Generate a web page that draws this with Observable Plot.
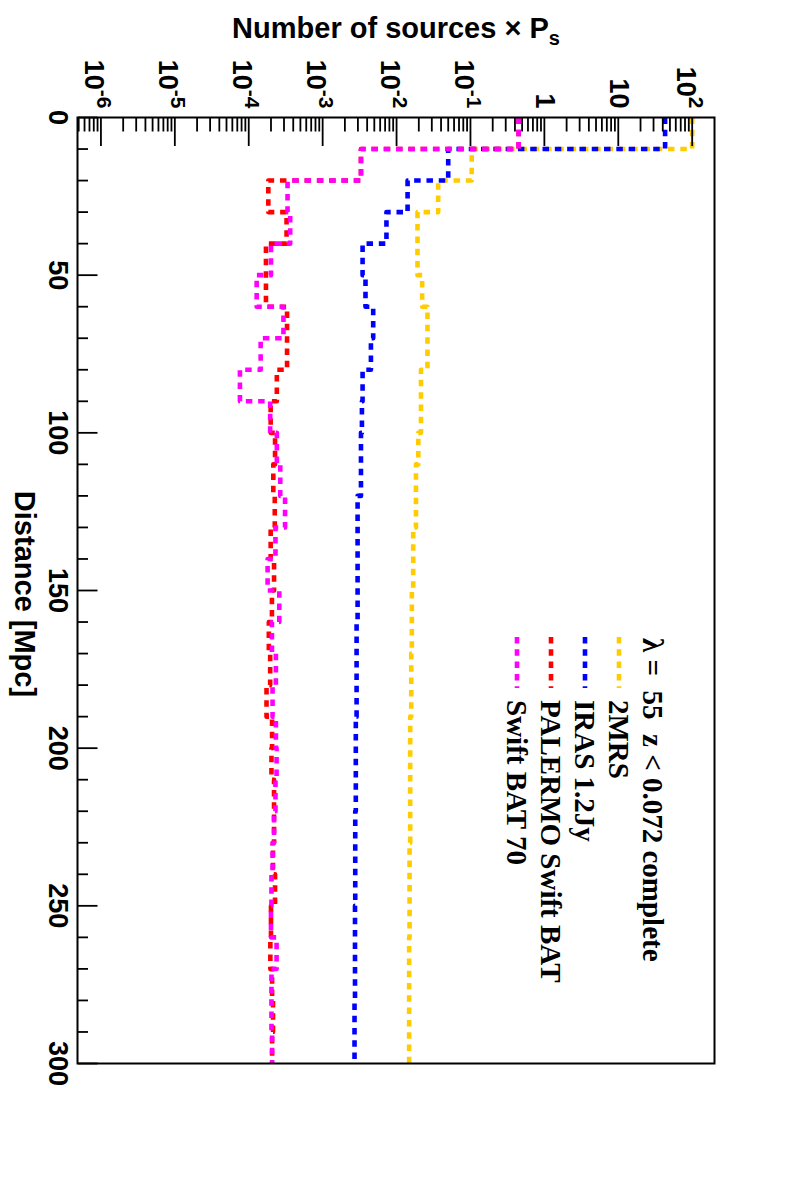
<!DOCTYPE html>
<html>
<head>
<meta charset="utf-8">
<script src="https://cdn.jsdelivr.net/npm/d3@7"></script>
<script src="https://cdn.jsdelivr.net/npm/@observablehq/plot@0.6"></script>
<style>
html, body { margin: 0; padding: 0; background: #fff; overflow: hidden; }
#page { position: relative; width: 794px; height: 1182px; overflow: hidden; background: #fff; }
#chart { position: absolute; left: 0; top: 0; width: 1182px; height: 794px;
         transform-origin: 0 0; transform: translate(794px, 0) rotate(90deg); }
</style>
</head>
<body>
<div id="page"><div id="chart"></div></div>
<script>
// ---- data (10 Mpc bins, lower edges) ----
const binStarts = [0,10,20,30,40,50,60,70,80,90,100,110,120,130,140,150,160,170,180,190,200,210,220,230,240,250,260,270,280,290];
const binEnd = 300;

const series2MRS = [100,0.104,0.0366,0.0192,0.0192,0.0222,0.0262,0.0262,0.0214,0.0214,0.0197,0.0183,0.0183,0.0168,0.0168,0.0161,0.0161,0.0158,0.0158,0.0153,0.0153,0.0153,0.0153,0.0150,0.0150,0.0150,0.0148,0.0148,0.0148,0.0148];
const seriesIRAS = [43,0.050,0.0141,0.0073,0.00347,0.0038,0.00483,0.0045,0.00347,0.0034,0.0033,0.0033,0.00297,0.00297,0.00297,0.00297,0.00288,0.00288,0.00288,0.00281,0.00281,0.00281,0.00276,0.00276,0.00276,0.00274,0.00274,0.00274,0.0027,0.0027];
const seriesPalermo = [0.448,0.0033,1.84e-4,3.25e-4,1.71e-4,1.71e-4,3.3e-4,3.3e-4,2.4e-4,1.98e-4,2.27e-4,2.15e-4,2.25e-4,1.98e-4,2.2e-4,2.06e-4,1.87e-4,1.95e-4,1.74e-4,2.07e-4,2.03e-4,2.2e-4,2.2e-4,2.13e-4,2.27e-4,2.0e-4,1.96e-4,2.07e-4,2.13e-4,2.07e-4];
const seriesBAT70 = [0.448,0.0033,3.35e-4,3.64e-4,2.0e-4,1.28e-4,2.95e-4,1.45e-4,7.6e-5,1.95e-4,2.4e-4,2.67e-4,3.1e-4,2.3e-4,1.8e-4,2.59e-4,2.06e-4,2.33e-4,2.1e-4,2.33e-4,2.38e-4,2.3e-4,2.2e-4,2.1e-4,2.03e-4,2.0e-4,2.38e-4,2.03e-4,2.03e-4,2.07e-4];

const seriesNames = ["2MRS", "IRAS 1.2Jy", "PALERMO Swift BAT", "Swift BAT 70"];
const seriesColors = ["#ffcc00", "#0000ff", "#ff0000", "#ff00ff"];
const legendHeader = "\u03bb =  55  z < 0.072 complete";

const distanceMajorTicks = [0,50,100,150,200,250,300];
const distanceMinorTicks = [10,20,30,40,60,70,80,90,110,120,130,140,160,170,180,190,210,220,230,240,260,270,280,290];
const countMajorTicks = [1e-6,1e-5,1e-4,1e-3,1e-2,1e-1,1,10,100];
const countTickLabels = ["10^-6","10^-5","10^-4","10^-3","10^-2","10^-1","1","10","10^2"];
const countDomain = [Math.pow(10, -6.317), Math.pow(10, 2.302)];
const xTitle = "Distance [Mpc]";
const yTitle = "Number of sources \u00d7 P";
const yTitleSub = "s";

// ---- build table ----
const allSeries = [series2MRS, seriesIRAS, seriesPalermo, seriesBAT70];
const rows = [];
allSeries.forEach((vals, k) => {
  binStarts.forEach((d, i) => rows.push({series: seriesNames[k], distance: d, value: vals[i]}));
  rows.push({series: seriesNames[k], distance: binEnd, value: vals[vals.length - 1]});
});

const countMinorTicks = [];
for (let e = -7; e <= 2; e++) for (let m = 2; m <= 9; m++) {
  const v = m * Math.pow(10, e);
  if (v > countDomain[0] && v < Math.pow(10, 2.29)) countMinorTicks.push(v);
}

const sansFont = "'Liberation Sans', Arial, Helvetica, sans-serif";
const serifFont = "'Liberation Serif', 'Times New Roman', serif";
const dash = "6.5,5.8";

const chart = Plot.plot({
  width: 1182,
  height: 794,
  marginLeft: 117,
  marginRight: 119,
  marginTop: 79,
  marginBottom: 78,
  style: {background: "#fff", fontFamily: sansFont, overflow: "visible"},
  x: {domain: [0, binEnd], axis: null, label: null},
  y: {type: "log", domain: countDomain, axis: null, label: null},
  color: {domain: seriesNames, range: seriesColors},
  marks: [
    Plot.line(rows, {x: "distance", y: "value", z: "series", stroke: "series",
      curve: "step-after", strokeWidth: 4.6, strokeDasharray: dash, strokeLinecap: "butt"}),
    Plot.frame({stroke: "#000", strokeWidth: 2}),
    // inward ticks
    Plot.axisX(distanceMajorTicks, {anchor: "bottom", tickSize: -19.5, tickFormat: () => "", strokeWidth: 1.8, label: null}),
    Plot.axisX(distanceMinorTicks, {anchor: "bottom", tickSize: -10, tickFormat: () => "", strokeWidth: 1.8, label: null}),
    Plot.axisY(countMajorTicks, {anchor: "left", tickSize: -29, tickFormat: () => "", strokeWidth: 1.8, label: null}),
    Plot.axisY(countMinorTicks, {anchor: "left", tickSize: -14.5, tickFormat: () => "", strokeWidth: 1.8, label: null}),
    // labels
    Plot.axisX(distanceMajorTicks, {anchor: "bottom", tickSize: 0, tickPadding: 9, fontSize: 27, fontWeight: "bold",
      fontFamily: sansFont, fill: "#000", label: null}),
    Plot.axisY(countMajorTicks, {anchor: "left", tickSize: 0, tickPadding: 9, fontSize: 27, fontWeight: "bold",
      fontFamily: sansFont, fill: "#000", label: null,
      tickFormat: (d) => countTickLabels[countMajorTicks.indexOf(d)]})
  ]
});

document.getElementById("chart").appendChild(chart);
const svg = d3.select(chart);

// superscripts in log tick labels
svg.selectAll('g[aria-label="y-axis tick label"] text').each(function () {
  const s = this.textContent;
  if (s.includes("^")) {
    const [base, exp] = s.split("^");
    const t = d3.select(this);
    t.text(null);
    t.append("tspan").attr("dy", 7).text(base);
    t.append("tspan").attr("dy", -12).attr("font-size", 21).text(exp);
  }
});

// axis titles
svg.append("text")
  .attr("transform", "translate(38,398) rotate(-90)")
  .attr("text-anchor", "middle")
  .attr("font-family", sansFont).attr("font-weight", "bold").attr("font-size", 29).attr("fill", "#000")
  .call(t => { t.append("tspan").text(yTitle); t.append("tspan").attr("dy", 7).attr("font-size", 20).text(yTitleSub); });

svg.append("text")
  .attr("x", 594).attr("y", 779)
  .attr("text-anchor", "middle")
  .attr("font-family", sansFont).attr("font-weight", "bold").attr("font-size", 29).attr("fill", "#000")
  .text(xTitle);

// legend
const legend = svg.append("g").attr("font-family", serifFont).attr("font-weight", "bold").attr("font-size", 29)
  .attr("fill", "#000").attr("text-anchor", "start");
legend.append("text").attr("x", 638).attr("y", 151).attr("text-anchor", "start").style("white-space", "pre").text(legendHeader);
seriesNames.forEach((name, i) => {
  const cy = 175 + 34 * i;
  legend.append("line").attr("x1", 637).attr("x2", 688).attr("y1", cy).attr("y2", cy)
    .attr("stroke", seriesColors[i]).attr("stroke-width", 4.6).attr("stroke-dasharray", dash);
  legend.append("text").attr("x", 700).attr("y", cy + 10).attr("text-anchor", "start").text(name);
});
</script>
</body>
</html>
